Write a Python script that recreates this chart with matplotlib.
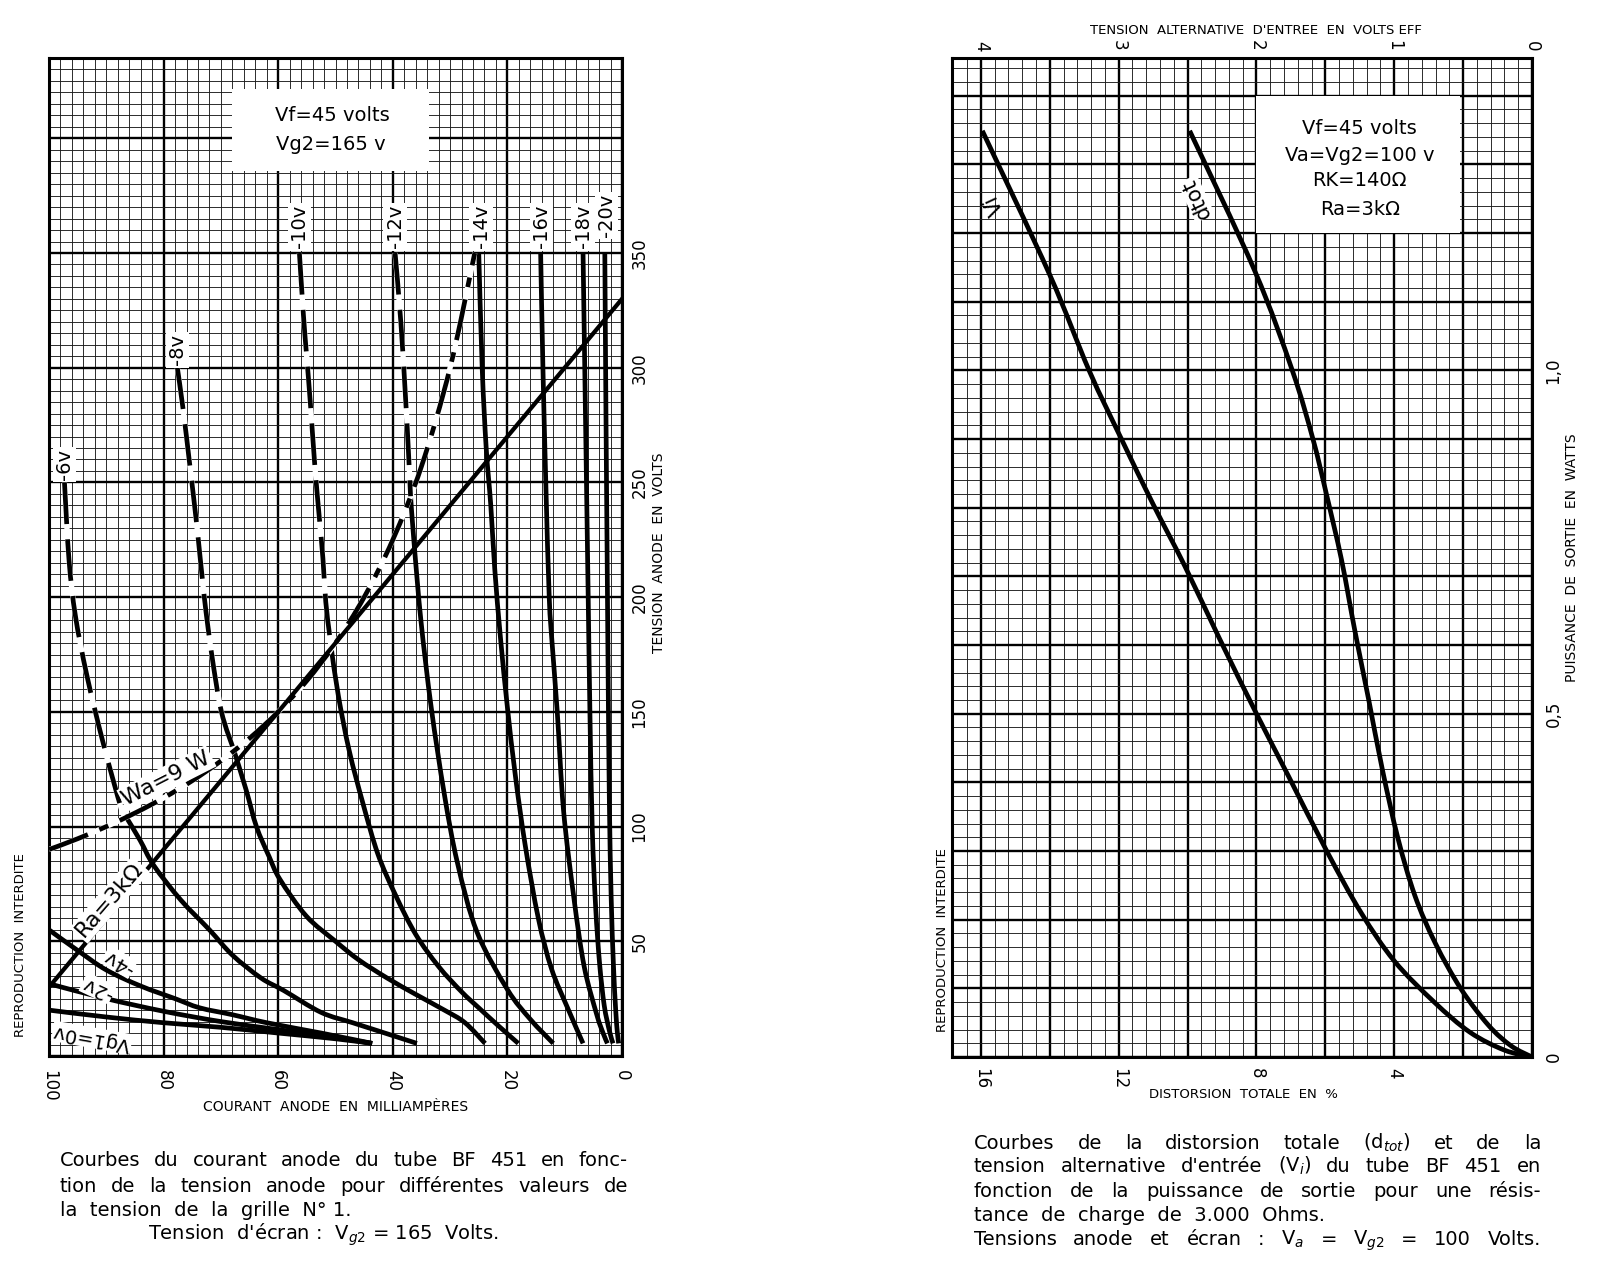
import numpy as np
import matplotlib
matplotlib.use('Agg')
import matplotlib.pyplot as plt
from matplotlib.patches import Rectangle, PathPatch
from matplotlib.path import Path

W, H = 1613, 1265
plt.rcParams['font.family'] = ['DejaVu Sans']
plt.rcParams['lines.scale_dashes'] = False

# ---- left chart: anode current (mA) vs anode voltage (V) ----
cur_ticks = [100, 80, 60, 40, 20, 0]
volt_ticks = [50, 100, 150, 200, 250, 300, 350]

vg0_I = [100, 90, 80, 70, 60, 50, 43.6]
vg0_V = [20, 17, 14.5, 12.5, 10, 7.5, 5.5]
vg2_I = [100, 90, 80, 70, 60, 50, 43.6]
vg2_V = [31.5, 25, 19.5, 15, 11.5, 8, 5.5]
vg4_I = [100, 95, 90, 84, 78, 73.7, 68, 62, 52.5, 43.6]
vg4_V = [55, 46, 37.5, 30.5, 25, 21, 18, 14.5, 10, 5.5]

vg6_dash_I = [97.3, 96.5, 95.4, 93.4, 90.5, 87.4, 86.5]
vg6_dash_V = [250, 216, 192, 166, 136, 108, 104]
vg6_I = [86.5, 84.1, 81.7, 77, 72, 68, 63, 59, 52.5, 47, 42, 35.8]
vg6_V = [104, 94, 83, 68, 55, 44, 34, 28.5, 19, 14.5, 10.5, 5.5]

vg8_dash_I = [77.6, 76.6, 75.4, 74.1, 72.9, 71.6, 69.9, 67.7]
vg8_dash_V = [300, 282, 257, 229, 200, 175, 150, 133]
vg8_I = [67.7, 65.6, 63.8, 61.6, 59.7, 55.1, 50, 46, 41, 36.1, 31, 27.4, 23.9]
vg8_V = [133, 116, 100, 87, 77, 61, 50, 42, 34, 27, 20, 14.5, 5.5]

vg10_dash_I = [56.3, 55.6, 55.0, 54.4, 53.6, 52.8, 52.2, 51.7, 51.1, 50.7]
vg10_dash_V = [350, 323, 304, 285, 257, 234, 217, 198, 185, 177]
vg10_I = [50.7, 49.5, 47.6, 45.2, 42.6, 39.5, 36, 32, 28, 25, 21.5, 18.1]
vg10_V = [177, 157, 133, 110, 88, 70, 53, 39, 28, 21, 13, 5.5]

vg12_dash_I = [39.6, 38.6, 37.8, 37.3, 36.9]
vg12_dash_V = [350, 320, 288, 265, 244]
vg12_I = [36.9, 36.3, 35.1, 33.3, 31, 28.7, 25.3, 20, 16, 12]
vg12_V = [244, 224, 190, 152, 114, 84, 54, 29, 16, 5.5]

vg14_I = [25, 24.4, 23.7, 22.9, 22.2, 21.2, 20, 18.6, 16.9, 14.6, 12.3, 9.5, 6.8]
vg14_V = [350, 300, 265, 240, 212, 182, 152, 122, 92, 60, 38, 21, 5.5]
vg16_I = [14.2, 13.8, 13.3, 12.7, 12.2, 11.3, 10.2, 8.4, 6.6, 4.4, 3.3, 2.55]
vg16_V = [350, 300, 250, 200, 180, 150, 107, 69, 39, 18, 10, 5.5]
vg18_I = [6.8, 6.5, 6.2, 5.9, 5.6, 5.2, 4.6, 3.9, 3.1, 2.2, 1.57]
vg18_V = [350, 300, 250, 200, 150, 100, 65, 40, 22, 11, 5.5]
vg20_I = [3.0, 2.8, 2.6, 2.4, 2.2, 1.9, 1.5, 1.1, 0.8, 0.58]
vg20_V = [350, 280, 220, 160, 110, 70, 40, 20, 10, 5.5]

wa_I = [100, 95, 90, 85, 80, 75, 70, 65, 60, 55, 50, 45, 40, 35, 30, 25.7]
wa_V = [90, 94.7, 100, 105.9, 112.5, 120, 128.6, 138.5, 150, 163.6, 180, 200, 225, 257, 300, 350]

ra_I = [100, 0]
ra_V = [30, 330]

# ---- right chart: output power (W) ----
dist_ticks = [16, 12, 8, 4]
vin_ticks = [4, 3, 2, 1, 0]

vi_volts = [3.99, 3.5, 3.215, 2.98, 2.75, 2.52, 2.27, 2.0, 1.77, 1.49, 1.24, 1.0, 0.71, 0.45, 0.2, 0]
vi_watts = [1.349, 1.139, 1.0, 0.9, 0.805, 0.715, 0.61, 0.5, 0.41, 0.3, 0.21, 0.14, 0.08, 0.036, 0.01, 0]

dtot_pct = [9.94, 8.05, 6.96, 6.36, 5.97, 5.53, 5.14, 4.74, 4.35, 3.9, 3.4, 2.8, 2.06, 1.26, 0.6, 0]
dtot_watts = [1.349, 1.145, 1.0, 0.9, 0.82, 0.724, 0.62, 0.52, 0.42, 0.32, 0.235, 0.165, 0.099, 0.046, 0.016, 0]


fig = plt.figure(figsize=(W / 100, H / 100), dpi=100)
fig.patch.set_facecolor('white')


def rect(x0, x1, yt, yb):
    return [x0 / W, 1 - yb / H, (x1 - x0) / W, (yb - yt) / H]


def ftext(x, y, s, **kw):
    return fig.text(x / W, 1 - y / H, s, **kw)


def paper(ax):
    ax.grid(which='minor', color='#1c1c1c', lw=0.65)
    ax.grid(which='major', color='k', lw=1.7)
    ax.set_axisbelow(True)
    ax.tick_params(which='both', length=0, labelsize=12)
    for sp in ax.spines.values():
        sp.set_linewidth(2.2)


def smooth(xs, ys):
    # bezier path through the read points (drawn curve, the points stay as they are)
    P = np.column_stack([xs, ys]).astype(float)
    n = len(P)
    verts, codes = [P[0]], [Path.MOVETO]
    for i in range(n - 1):
        p0 = P[i - 1] if i > 0 else P[i]
        p1, p2 = P[i], P[i + 1]
        p3 = P[i + 2] if i + 2 < n else P[i + 1]
        verts += [p1 + (p2 - p0) / 6, p2 - (p3 - p1) / 6, p2]
        codes += [Path.CURVE4] * 3
    return Path(verts, codes)


LW = 3.4


def curve(ax, xs, ys, dashes=None):
    p = smooth(xs, ys)
    if dashes is None:
        ax.add_patch(PathPatch(p, fill=False, ec='k', lw=LW, capstyle='butt', zorder=3))
    else:
        ax.add_patch(PathPatch(p, fill=False, ec='white', lw=LW + 0.4, capstyle='butt', zorder=3))
        ax.add_patch(PathPatch(p, fill=False, ec='k', lw=LW, capstyle='butt',
                               ls=(0, dashes), zorder=3.1))


white = dict(fc='white', ec='none', pad=1.5)

# ================= left =================
ax1 = fig.add_axes(rect(49, 622, 58, 1056))
ax1.set_xlim(100, 0)
ax1.set_ylim(0, 435)
ax1.set_xticks(np.arange(0, 101, 20))
ax1.set_xticks(np.arange(0, 101, 2), minor=True)
ax1.set_yticks(np.arange(0, 401, 50))
ax1.set_yticks(np.arange(0, 436, 5), minor=True)
paper(ax1)
ax1.set_xticks(cur_ticks, [str(c) for c in cur_ticks], rotation=-90)
ax1.tick_params(axis='x', pad=10)
ax1.yaxis.tick_right()
ax1.set_yticks([0] + volt_ticks + [400], [''] + [str(v) for v in volt_ticks] + [''],
               rotation=90, va='center')
ax1.tick_params(axis='y', pad=6)

for I, V in [(vg0_I, vg0_V), (vg2_I, vg2_V), (vg4_I, vg4_V), (vg6_I, vg6_V),
             (vg8_I, vg8_V), (vg10_I, vg10_V), (vg12_I, vg12_V), (vg14_I, vg14_V),
             (vg16_I, vg16_V), (vg18_I, vg18_V), (vg20_I, vg20_V)]:
    curve(ax1, I, V)

for I, V in [(vg6_dash_I, vg6_dash_V), (vg8_dash_I, vg8_dash_V),
             (vg10_dash_I, vg10_dash_V), (vg12_dash_I, vg12_dash_V)]:
    curve(ax1, I, V, dashes=(30, 11))

curve(ax1, wa_I, wa_V, dashes=(30, 9, 7, 9))
ax1.plot(ra_I, ra_V, color='k', lw=LW * 0.9, zorder=3)

ax1.add_patch(Rectangle((33.7, 385.7), 34.3, 36, fc='white', ec='none', zorder=2.5))
ax1.text(60.5, 410, 'Vf=45 volts', fontsize=14, va='center', zorder=4)
ax1.text(60.3, 397.5, 'Vg2=165 v', fontsize=14, va='center', zorder=4)

for lab, I, V in [('-6v', 97.3, 251), ('-8v', 77.6, 301), ('-10v', 56.3, 352),
                  ('-12v', 39.6, 352), ('-14v', 24.6, 352), ('-16v', 14.0, 352),
                  ('-18v', 6.8, 352), ('-20v', 2.7, 357)]:
    ax1.text(I, V, lab, rotation=90, ha='center', va='bottom', fontsize=14,
             bbox=white, zorder=5)

ax1.text(79.5, 121, 'Wa=9 W', rotation=27, ha='center', va='center', fontsize=16,
         bbox=white, zorder=5)
ax1.text(89.4, 68, 'Ra=3k\u03a9', rotation=49, ha='center', va='center', fontsize=16,
         bbox=white, zorder=5)
ax1.text(87.8, 41, '-4v', rotation=150, ha='center', va='center', fontsize=14,
         bbox=dict(fc='white', ec='none', pad=0.5), zorder=5)
ax1.text(91.5, 29.5, '-2v', rotation=155, ha='center', va='center', fontsize=14,
         bbox=dict(fc='white', ec='none', pad=0.5), zorder=5)
ax1.text(92.5, 8, 'Vg1=0v', rotation=170, ha='center', va='center', fontsize=14,
         bbox=dict(fc='white', ec='none', pad=0.5), zorder=5)

ftext(659, 553, 'TENSION  ANODE  EN  VOLTS', rotation=90, ha='center', va='center', fontsize=10)
ftext(21, 945, 'REPRODUCTION  INTERDITE', rotation=90, ha='center', va='center', fontsize=9.5)
ftext(336, 1107, 'COURANT  ANODE  EN  MILLIAMPÈRES', ha='center', va='center', fontsize=10)

# ================= right =================
ax2 = fig.add_axes(rect(952, 1532, 58, 1057))
ax2.set_xlim(16.84, 0)
ax2.set_ylim(0, 1.455)
ax2.set_xticks(np.arange(0, 17, 2))
ax2.set_xticks(np.round(np.arange(0, 16.9, 0.4), 2), minor=True)
ax2.set_yticks(np.round(np.arange(0, 1.41, 0.1), 2))
ax2.set_yticks(np.round(np.arange(0, 1.455, 0.02), 2), minor=True)
paper(ax2)
ax2.set_xticks(np.arange(0, 17, 2),
               [str(v) if v in dist_ticks else '' for v in range(0, 17, 2)], rotation=-90)
ax2.tick_params(axis='x', pad=8)
ax2.yaxis.tick_right()
ax2.set_yticks(np.round(np.arange(0, 1.41, 0.1), 2),
               ['0', '', '', '', '', '0,5', '', '', '', '', '1,0', '', '', '', ''],
               rotation=90, va='center')
ax2.tick_params(axis='y', pad=9)

axt = ax2.twiny()
axt.set_xlim(16.84 / 4, 0)
axt.set_xticks(vin_ticks, [str(v) for v in vin_ticks], rotation=-90)
axt.tick_params(length=0, labelsize=12, pad=5)
for sp in axt.spines.values():
    sp.set_visible(False)

curve(axt, vi_volts, vi_watts)
curve(ax2, dtot_pct, dtot_watts)

ax2.add_patch(Rectangle((2.1, 1.2), 5.9, 0.2, fc='white', ec='none', zorder=2.5))
for s, y in [('Vf=45 volts', 1.352), ('Va=Vg2=100 v', 1.3125),
             ('RK=140\u03a9', 1.276), ('Ra=3k\u03a9', 1.234)]:
    ax2.text(5.0, y, s, ha='center', va='center', fontsize=14, zorder=4)

ax2.text(15.6, 1.241, 'Vi', rotation=115, ha='center', va='center', fontsize=15, zorder=5)
ax2.text(9.75, 1.25, 'dtot', rotation=115, ha='center', va='center', fontsize=15,
         bbox=dict(fc='white', ec='none', pad=0.5), zorder=5)

ftext(1256, 31, "TENSION  ALTERNATIVE  D'ENTREE  EN  VOLTS EFF", ha='center', va='center',
      fontsize=9.5)
ftext(1243, 1094, 'DISTORSION  TOTALE  EN  %', ha='center', va='center', fontsize=9.5)
ftext(1572, 558, 'PUISSANCE  DE  SORTIE  EN  WATTS', rotation=90, ha='center', va='center',
      fontsize=10)
ftext(943, 940, 'REPRODUCTION  INTERDITE', rotation=90, ha='center', va='center', fontsize=9.5)

# ================= captions =================
renderer = fig.canvas.get_renderer()


def justify(line, x0, x1, yb, size=14):
    words = line.split(' ')
    ts = [ftext(0, yb, w, fontsize=size, va='baseline') for w in words]
    ws = [t.get_window_extent(renderer).width for t in ts]
    gap = (x1 - x0 - sum(ws)) / (len(ws) - 1)
    x = x0
    for t, w in zip(ts, ws):
        t.set_position((x / W, 1 - yb / H))
        x += w + gap


justify('Courbes du courant anode du tube BF 451 en fonc-', 60, 628, 1166)
justify('tion de la tension anode pour différentes valeurs de', 60, 628, 1192)
ftext(60, 1216, 'la  tension  de  la  grille  N° 1.', fontsize=14, va='baseline')
ftext(148, 1240, "Tension  d'écran :  V$_{g2}$ = 165  Volts.", fontsize=14, va='baseline')

justify('Courbes de la distorsion totale (d$_{tot}$) et de la', 974, 1541, 1149)
justify("tension alternative d'entrée (V$_{i}$) du tube BF 451 en", 974, 1541, 1172)
justify('fonction de la puissance de sortie pour une résis-', 974, 1541, 1197)
ftext(974, 1221, 'tance  de  charge  de  3.000  Ohms.', fontsize=14, va='baseline')
justify('Tensions anode et écran : V$_{a}$ = V$_{g2}$ = 100 Volts.', 974, 1541, 1245)

fig.savefig('out.png', dpi=100, facecolor='white')
